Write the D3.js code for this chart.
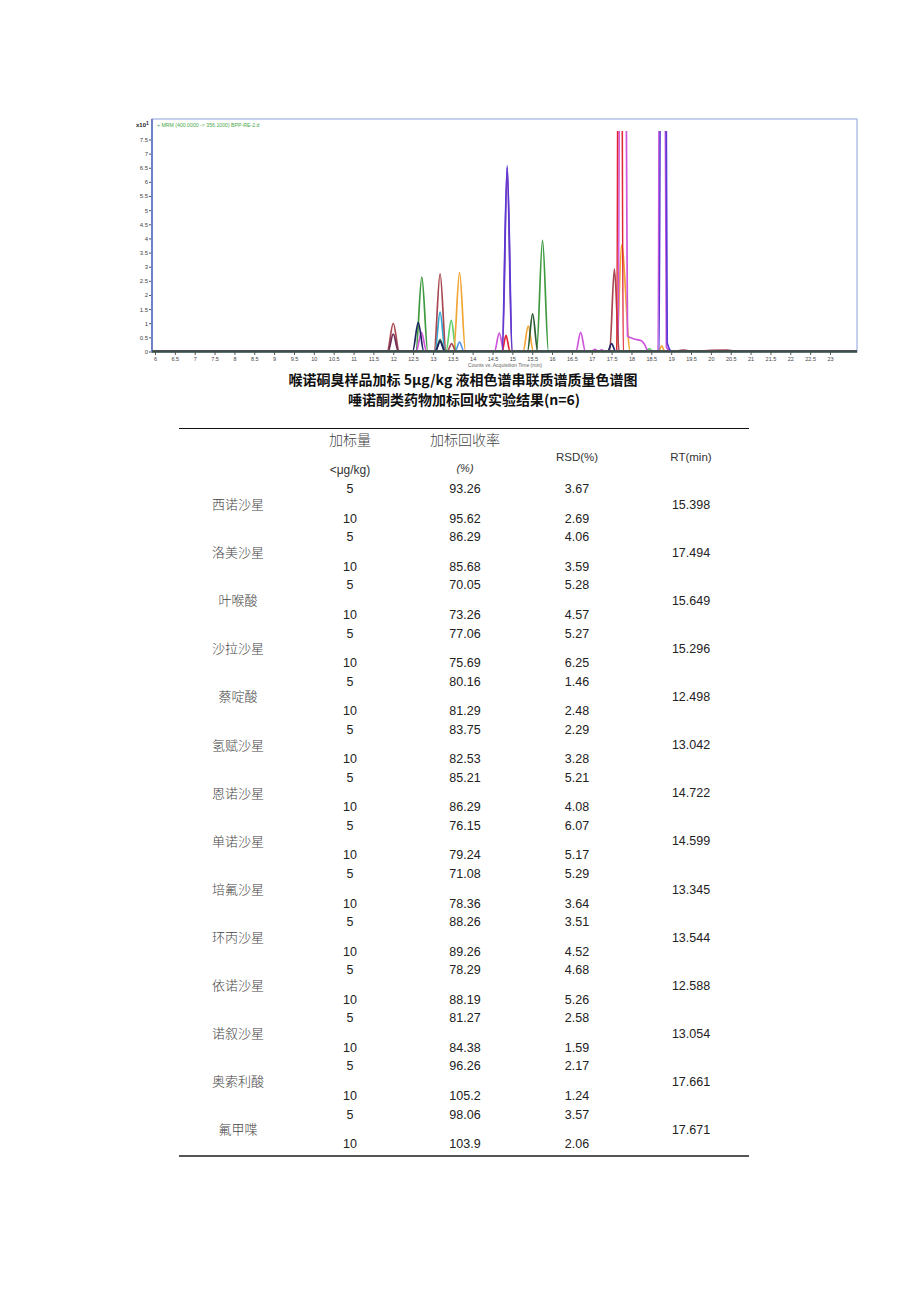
<!DOCTYPE html>
<html>
<head>
<meta charset="utf-8">
<script src="https://cdn.jsdelivr.net/npm/d3@7"></script>
<style>
    body { margin: 0; background: #fff; }
    svg { display: block; }
</style>
</head>
<body>
<script>
// chromatogram traces: [time (min), counts x10^1]
let traceMaroon = [[5.92, 0], [11.85, 0], [12.0, 1.0], [12.15, 0], [13.03, 0], [13.18, 2.75], [13.33, 0],
    [13.36, 0], [13.47, 0.28], [13.58, 0], [17.45, 0], [17.57, 2.92], [17.69, 0], [19.05, 0], [19.3, 0.05],
    [19.6, 0], [20.0, 0.04], [20.4, 0.05], [20.7, 0], [23.7, 0]];
let traceDarkPurple = [[5.92, 0], [11.87, 0], [12.0, 0.62], [12.13, 0], [23.7, 0]];
let traceNavy = [[5.92, 0], [12.49, 0], [12.63, 1.03], [12.77, 0], [13.06, 0], [13.18, 0.35], [13.3, 0],
    [17.4, 0], [17.5, 0.28], [17.6, 0], [23.7, 0]];
let traceGreen = [[5.92, 0], [12.57, 0], [12.72, 2.63], [12.87, 0], [15.61, 0], [15.76, 3.93], [15.91, 0], [23.7, 0]];
let traceMagenta = [[5.92, 0], [12.58, 0], [12.71, 0.68], [12.84, 0], [14.55, 0], [14.67, 0.65], [14.79, 0],
    [16.6, 0], [16.72, 0.68], [16.84, 0], [17.0, 0], [17.08, 0.08], [17.16, 0], [17.25, 0.06], [17.33, 0],
    [17.67, 0], [17.75, 40], [17.9, 0.55], [18.05, 0.45], [18.25, 0.38], [18.33, 0.25], [18.42, 0.02],
    [18.67, 0], [18.75, 40], [18.88, 0.15], [19.0, 0], [23.7, 0]];
let traceCyan = [[5.92, 0], [13.05, 0], [13.18, 1.39], [13.31, 0], [23.7, 0]];
let traceDarkGreen = [[5.92, 0], [13.06, 0], [13.18, 0.42], [13.3, 0], [15.38, 0], [15.51, 1.33], [15.64, 0], [23.7, 0]];
let traceLightGreen = [[5.92, 0], [13.33, 0], [13.46, 1.1], [13.59, 0], [18.37, 0], [18.45, 0.1], [18.53, 0], [23.7, 0]];
let traceOrange = [[5.92, 0], [13.52, 0], [13.67, 2.8], [13.82, 0], [15.27, 0], [15.4, 0.9], [15.53, 0],
    [17.63, 0], [17.75, 3.77], [17.97, 0], [18.68, 0], [18.76, 0.2], [18.84, 0], [23.7, 0]];
let traceLightBlue = [[5.92, 0], [13.56, 0], [13.67, 0.33], [13.78, 0], [23.7, 0]];
let traceBlue = [[5.92, 0], [14.74, 0], [14.87, 6.58], [15.0, 0], [18.7, 0], [18.78, 40], [18.9, 0.3], [19.02, 0], [23.7, 0]];
let tracePurple = [[5.92, 0], [14.75, 0], [14.87, 6.5], [14.99, 0], [23.7, 0]];
let traceRed = [[5.92, 0], [14.74, 0], [14.84, 0.57], [14.94, 0], [17.63, 0], [17.71, 40], [17.79, 0], [23.7, 0]];

let traces = [traceLightBlue, traceCyan, traceLightGreen, traceOrange, traceGreen, traceDarkGreen, traceMagenta,
    traceMaroon, traceDarkPurple, traceNavy, traceRed, tracePurple, traceBlue];
let traceColors = ['#5c96f0', '#2fa9d4', '#5fcf6a', '#f2a634', '#3f9a3f', '#2d5a33', '#cf55dc',
    '#a8474f', '#6b2c58', '#1e2263', '#e02434', '#8e3db4', '#5a3ad6'];

let timeTicks = [6, 6.5, 7, 7.5, 8, 8.5, 9, 9.5, 10, 10.5, 11, 11.5, 12, 12.5, 13, 13.5, 14, 14.5, 15, 15.5,
    16, 16.5, 17, 17.5, 18, 18.5, 19, 19.5, 20, 20.5, 21, 21.5, 22, 22.5, 23];
let countTicks = [0, 0.5, 1, 1.5, 2, 2.5, 3, 3.5, 4, 4.5, 5, 5.5, 6, 6.5, 7, 7.5];

// recovery table
let compounds = ['西诺沙星', '洛美沙星', '叶喉酸', '沙拉沙星', '蔡啶酸', '氢赋沙星', '恩诺沙星',
    '单诺沙星', '培氟沙星', '环丙沙星', '依诺沙星', '诺叙沙星', '奥索利酸', '氟甲喋'];
let spikeLevels = ['5', '10'];
let recovery5 = ['93.26', '86.29', '70.05', '77.06', '80.16', '83.75', '85.21', '76.15', '71.08', '88.26', '78.29', '81.27', '96.26', '98.06'];
let recovery10 = ['95.62', '85.68', '73.26', '75.69', '81.29', '82.53', '86.29', '79.24', '78.36', '89.26', '88.19', '84.38', '105.2', '103.9'];
let rsd5 = ['3.67', '4.06', '5.28', '5.27', '1.46', '2.29', '5.21', '6.07', '5.29', '3.51', '4.68', '2.58', '2.17', '3.57'];
let rsd10 = ['2.69', '3.59', '4.57', '6.25', '2.48', '3.28', '4.08', '5.17', '3.64', '4.52', '5.26', '1.59', '1.24', '2.06'];
let retention = ['15.398', '17.494', '15.649', '15.296', '12.498', '13.042', '14.722', '14.599', '13.345', '13.544', '12.588', '13.054', '17.661', '17.671'];

let width = 920,
    height = 1301;

let svg = d3.select('body').append('svg')
    .attr('width', width)
    .attr('height', height)
    .style('background', '#fff');

// ---- chromatogram ----
let frame = {left: 152, right: 857, top: 119, bottom: 352};

let x = d3.scaleLinear().domain([6, 23]).range([155, 830]);
let y = d3.scaleLinear().domain([0, 7.5]).range([351.5, 139.5]);

svg.append('defs').append('clipPath').attr('id', 'plotClip')
    .append('rect')
    .attr('x', frame.left)
    .attr('y', y(7.8))
    .attr('width', frame.right - frame.left)
    .attr('height', frame.bottom - y(7.8));

svg.append('rect')
    .attr('x', frame.left)
    .attr('y', frame.top)
    .attr('width', frame.right - frame.left)
    .attr('height', frame.bottom - frame.top)
    .attr('fill', '#fff')
    .attr('stroke', '#9db1e2')
    .attr('stroke-width', 1.2);

let line = d3.line()
    .x(d => x(d[0]))
    .y(d => y(d[1]))
    .curve(d3.curveMonotoneX);

svg.append('g').attr('clip-path', 'url(#plotClip)')
    .selectAll('path')
    .data(traces)
    .enter()
    .append('path')
    .attr('d', line)
    .attr('fill', 'none')
    .attr('stroke', (d, i) => traceColors[i])
    .attr('stroke-width', 1.7)
    .attr('stroke-linejoin', 'round');

// axes
let yAxis = d3.axisLeft(y).tickValues(countTicks).tickSize(3).tickPadding(1)
    .tickFormat(d => String(d));
let yAxisG = svg.append('g').attr('transform', 'translate(' + frame.left + ',0)').call(yAxis);
yAxisG.select('.domain').remove();
yAxisG.selectAll('line').attr('stroke', '#555');
yAxisG.selectAll('text').attr('font-family', 'Liberation Sans, Arial, sans-serif')
    .attr('font-size', 6).attr('fill', '#444');

svg.append('line')
    .attr('x1', frame.left).attr('x2', frame.left)
    .attr('y1', frame.top).attr('y2', frame.bottom)
    .attr('stroke', '#6e80c6')
    .attr('stroke-width', 2);

let xAxis = d3.axisBottom(x).tickValues(timeTicks).tickSize(3).tickPadding(2)
    .tickFormat(d => String(d));
let xAxisG = svg.append('g').attr('transform', 'translate(0,' + frame.bottom + ')').call(xAxis);
xAxisG.select('.domain').remove();
xAxisG.selectAll('line').attr('stroke', '#555');
xAxisG.selectAll('text').attr('font-family', 'Liberation Sans, Arial, sans-serif')
    .attr('font-size', 5.5).attr('fill', '#444');

// thick baseline where all traces overlap
svg.append('line')
    .attr('x1', frame.left).attr('x2', frame.right)
    .attr('y1', frame.bottom - 0.5).attr('y2', frame.bottom - 0.5)
    .attr('stroke', '#3d5247')
    .attr('stroke-width', 2.6);

let yUnit = svg.append('text')
    .attr('x', 136)
    .attr('y', 127)
    .attr('font-family', 'Liberation Sans, Arial, sans-serif')
    .attr('font-size', 6)
    .attr('font-weight', 'bold')
    .attr('fill', '#222')
    .text('x10');
yUnit.append('tspan').attr('dy', -2).attr('font-size', 5).text('1');

svg.append('text')
    .attr('x', 157)
    .attr('y', 127)
    .attr('font-family', 'Liberation Sans, Arial, sans-serif')
    .attr('font-size', 5.2)
    .attr('fill', '#49a84a')
    .text('+ MRM (400.0000 -> 356.1000) BPP-RE-2.d');

svg.append('text')
    .attr('x', 505)
    .attr('y', 367)
    .attr('text-anchor', 'middle')
    .attr('font-family', 'Liberation Sans, Arial, sans-serif')
    .attr('font-size', 5)
    .attr('fill', '#666')
    .text('Counts vs. Acquisition Time (min)');

// ---- titles ----
let titleFont = '"Noto Sans CJK SC", "Noto Sans", sans-serif';
svg.append('text')
    .attr('x', 463)
    .attr('y', 385)
    .attr('text-anchor', 'middle')
    .attr('font-family', titleFont)
    .attr('font-size', 14)
    .attr('font-weight', 'bold')
    .attr('fill', '#111')
    .text('喉诺硐臭样品加标 5μg/kg 液相色谱串联质谱质量色谱图');

svg.append('text')
    .attr('x', 464)
    .attr('y', 405)
    .attr('text-anchor', 'middle')
    .attr('font-family', titleFont)
    .attr('font-size', 14)
    .attr('font-weight', 'bold')
    .attr('fill', '#111')
    .text('唾诺酮类药物加标回收实验结果(n=6)');

// ---- table ----
let table = svg.append('g');
let numFont = 'Liberation Sans, Arial, sans-serif';
let cjkFont = '"Noto Sans CJK SC", sans-serif';
let col = {name: 238, level: 350, recovery: 465, rsd: 577, rt: 691};

table.append('line')
    .attr('x1', 179).attr('x2', 749)
    .attr('y1', 428.5).attr('y2', 428.5)
    .attr('stroke', '#111').attr('stroke-width', 1);

table.append('line')
    .attr('x1', 179).attr('x2', 749)
    .attr('y1', 1156).attr('y2', 1156)
    .attr('stroke', '#555').attr('stroke-width', 2);

function cell(txt, cx, cy, font, size, opts) {
    opts = opts || {};
    return table.append('text')
        .attr('x', cx)
        .attr('y', cy)
        .attr('text-anchor', 'middle')
        .attr('dominant-baseline', 'middle')
        .attr('font-family', font)
        .attr('font-size', size)
        .attr('font-weight', opts.weight || 'normal')
        .attr('font-style', opts.style || 'normal')
        .attr('fill', opts.fill || '#222')
        .text(txt);
}

cell('加标量', col.level, 441, cjkFont, 14, {weight: 300, fill: '#444'});
cell('加标回收率', col.recovery, 441, cjkFont, 14, {weight: 300, fill: '#444'});
cell('<μg/kg)', col.level, 471, numFont, 12, {fill: '#333'});
cell('(%)', col.recovery, 469, numFont, 11, {style: 'italic', fill: '#333'});
cell('RSD(%)', col.rsd, 458, numFont, 11.5, {fill: '#333'});
cell('RT(min)', col.rt, 458, numFont, 11.5, {fill: '#333'});

let rowY = d3.scaleLinear().domain([0, compounds.length - 1]).range([490, 1115.3]);

compounds.forEach((name, i) => {
    let y5 = rowY(i),
        y10 = y5 + 29.5;
    cell(spikeLevels[0], col.level, y5, numFont, 12.5);
    cell(recovery5[i], col.recovery, y5, numFont, 12.5);
    cell(rsd5[i], col.rsd, y5, numFont, 12.5);
    cell(spikeLevels[1], col.level, y10, numFont, 12.5);
    cell(recovery10[i], col.recovery, y10, numFont, 12.5);
    cell(rsd10[i], col.rsd, y10, numFont, 12.5);
    cell(name, col.name, y5 + 15.5, cjkFont, 13, {weight: 300, fill: '#444'});
    cell(retention[i], col.rt, y5 + 15.5, numFont, 12.5);
});
</script>
</body>
</html>
